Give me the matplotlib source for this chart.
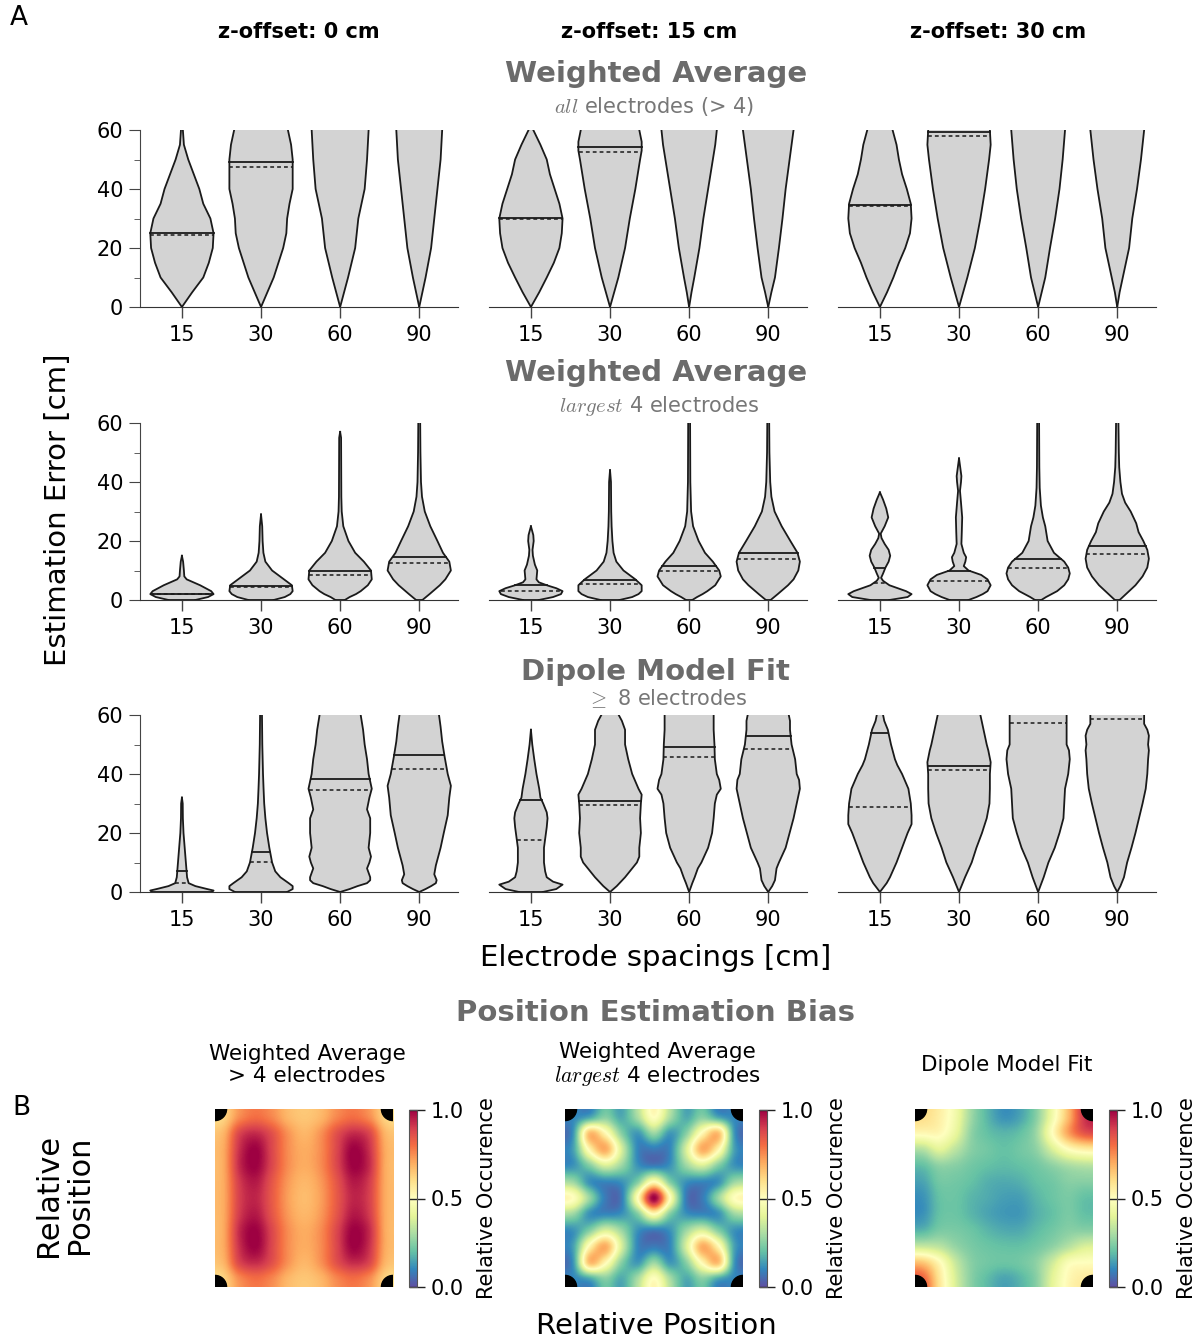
import matplotlib.pyplot as plt
import numpy as np
from matplotlib.patches import Circle

plt.rcParams['font.family'] = 'DejaVu Sans'
plt.rcParams['mathtext.fontset'] = 'cm'

spacings = ['15', '30', '60', '90']
offsets = ['z-offset: 0 cm', 'z-offset: 15 cm', 'z-offset: 30 cm']

# violin outlines as (error [cm], half width) pairs
# weighted average, all electrodes
wa_all_z0 = [
    [(0, 0), (5, .13), (10, .27), (15, .34), (20, .39), (25, .40), (30, .36), (35, .27), (40, .22), (45, .15), (50, .08), (55, .025), (60, .012)],
    [(0, 0), (5, .08), (10, .16), (15, .22), (20, .28), (25, .32), (30, .33), (35, .36), (40, .40), (45, .40), (50, .40), (55, .38), (60, .34)],
    [(0, 0), (10, .10), (20, .19), (30, .23), (40, .31), (50, .34), (60, .36)],
    [(0, 0), (5, .04), (10, .08), (20, .15), (30, .19), (40, .23), (50, .27), (60, .29)],
]
wa_all_z15 = [
    [(0, 0), (5, .105), (10, .20), (15, .29), (20, .36), (25, .39), (30, .40), (35, .36), (40, .30), (45, .24), (50, .20), (55, .12), (60, .03)],
    [(0, 0), (10, .105), (20, .19), (30, .25), (40, .32), (50, .38), (53, .40), (56, .40), (60, .37)],
    [(0, 0), (5, .03), (10, .065), (20, .13), (30, .18), (40, .24), (50, .30), (55, .33), (60, .35)],
    [(0, 0), (5, .04), (10, .085), (20, .135), (30, .18), (40, .22), (50, .27), (60, .32)],
]
wa_all_z30 = [
    [(0, 0), (5, .09), (10, .17), (15, .24), (20, .32), (25, .38), (30, .40), (35, .39), (40, .34), (45, .28), (50, .24), (55, .21), (60, .16)],
    [(0, 0), (10, .105), (20, .20), (30, .27), (40, .33), (50, .38), (55, .40), (60, .39)],
    [(0, 0), (10, .09), (20, .15), (30, .215), (40, .27), (50, .31), (60, .34)],
    [(0, 0), (5, .03), (10, .07), (20, .15), (30, .19), (40, .25), (50, .30), (60, .34)],
]
wa_all_mean = [[25.0, 49.0, None, None], [30.2, 54.2, None, None], [34.6, 59.4, None, None]]
wa_all_median = [[24.5, 47.6, None, None], [29.8, 52.7, None, None], [34.3, 58.1, None, None]]

# weighted average, largest 4 electrodes
wa_top4_z0 = [
    [(0, .17), (1, .33), (2, .40), (3, .37), (5, .23), (7, .06), (8, .03), (10, .025), (13, .015), (15, 0)],
    [(0, .16), (1, .30), (2, .37), (3, .40), (5, .39), (7, .29), (10, .14), (13, .055), (16, .03), (20, .02), (25, .015), (29, 0)],
    [(0, .06), (1, .12), (2, .20), (3, .26), (5, .35), (7, .40), (10, .39), (13, .30), (16, .19), (20, .105), (25, .04), (30, .02), (35, .015), (55, .012), (57, 0)],
    [(0, .04), (2, .13), (5, .26), (7, .33), (10, .40), (13, .38), (16, .30), (20, .23), (25, .14), (30, .07), (35, .035), (40, .022), (50, .015), (60, .012)],
]
wa_top4_z15 = [
    [(0, .10), (1, .28), (2, .38), (3, .40), (4, .32), (5, .20), (6, .10), (7, .07), (10, .08), (12, .05), (15, .025), (17, .02), (20, .035), (22, .03), (25, 0)],
    [(0, .12), (1, .28), (2, .36), (3, .40), (5, .40), (7, .32), (10, .17), (13, .08), (16, .045), (20, .03), (25, .02), (30, .015), (40, .012), (44, 0)],
    [(0, .04), (1, .10), (2, .17), (3, .23), (5, .33), (8, .40), (10, .38), (13, .30), (16, .20), (20, .12), (25, .05), (30, .025), (40, .015), (60, .012)],
    [(0, .03), (2, .12), (5, .25), (7, .32), (10, .38), (13, .40), (16, .37), (20, .28), (25, .17), (30, .08), (35, .04), (40, .025), (50, .015), (60, .012)],
]
wa_top4_z30 = [
    [(0, .12), (1, .35), (2, .40), (3, .33), (5, .12), (6.5, .04), (7.5, .015), (9, .04), (11, .07), (13, .11), (15, .13), (17, .11), (19, .06), (21, .02), (22.5, .01), (25, .06), (28, .105), (31, .08), (34, .04), (36.5, 0)],
    [(0, .12), (1, .22), (2, .30), (3, .36), (5, .40), (7, .36), (8.5, .28), (10, .12), (11.5, .06), (13, .08), (14.5, .09), (16, .06), (19, .03), (23, .035), (28, .04), (33, .025), (37, .012), (40, .025), (42, .03), (45, .015), (48, 0)],
    [(0, .04), (1, .10), (2, .17), (3, .24), (5, .33), (7, .38), (9, .40), (11, .38), (13, .33), (16, .20), (20, .12), (25, .09), (28, .06), (32, .035), (38, .02), (45, .015), (60, .012)],
    [(0, .03), (2, .11), (5, .23), (8, .32), (11, .38), (14, .40), (17, .38), (20, .33), (23, .27), (26, .24), (30, .17), (33, .10), (36, .06), (40, .04), (45, .025), (50, .02), (60, .015)],
]
wa_top4_mean = [[2.2, 4.9, 9.8, 14.7], [5.0, 6.9, 11.4, 16.0], [11.0, 9.8, 13.8, 18.3]]
wa_top4_median = [[2.0, 4.3, 8.5, 12.5], [3.2, 5.3, 9.8, 13.8], [5.8, 6.6, 10.9, 15.6]]

# dipole model fit, >= 8 electrodes
dip_z0 = [
    [(0, .38), (0.5, .40), (1, .32), (2, .17), (3, .085), (5, .065), (10, .05), (15, .035), (20, .02), (25, .012), (30, .01), (32, 0)],
    [(0, .33), (1, .40), (2, .40), (3, .35), (5, .245), (7, .18), (10, .14), (15, .105), (20, .076), (25, .055), (30, .04), (35, .032), (40, .025), (50, .016), (60, .012)],
    [(0, 0), (1, .12), (2, .22), (3, .34), (4, .38), (5, .38), (8, .34), (10, .37), (12, .39), (15, .36), (20, .38), (25, .38), (28, .34), (32, .37), (35, .40), (40, .36), (45, .34), (50, .31), (55, .29), (60, .26)],
    [(0, 0), (1, .08), (2, .15), (3, .21), (4, .22), (6, .19), (9, .21), (12, .24), (15, .27), (20, .31), (26, .36), (32, .38), (36, .40), (40, .36), (46, .32), (51, .29), (56, .27), (60, .25)],
]
dip_z15 = [
    [(0, .15), (1, .32), (2.5, .40), (3.5, .28), (5, .20), (7, .18), (10, .165), (15, .165), (18, .18), (22, .20), (25, .21), (27, .20), (30, .155), (32, .12), (35, .105), (40, .07), (45, .042), (50, .017), (55, 0)],
    [(0, 0), (2, .085), (5, .19), (8, .28), (10, .34), (12, .37), (15, .37), (20, .39), (25, .38), (30, .39), (33, .40), (35, .36), (40, .28), (45, .23), (50, .19), (55, .19), (58, .15), (60, .11)],
    [(0, 0), (3, .04), (5, .07), (8, .11), (10, .155), (15, .24), (20, .29), (25, .31), (30, .325), (33, .35), (35, .40), (38, .38), (40, .35), (45, .325), (50, .32), (55, .31), (60, .31)],
    [(0, 0), (2, .05), (4, .085), (5, .09), (8, .105), (10, .135), (15, .22), (20, .27), (25, .32), (30, .36), (35, .40), (38, .39), (40, .36), (45, .34), (50, .295), (55, .275), (58, .275), (60, .26)],
]
dip_z30 = [
    [(0, 0), (3, .085), (5, .127), (10, .21), (15, .28), (20, .35), (23, .40), (26, .40), (30, .39), (35, .36), (40, .28), (43, .22), (45, .19), (50, .14), (55, .10), (58, .055), (60, .04)],
    [(0, 0), (5, .076), (10, .16), (15, .22), (20, .29), (25, .35), (30, .385), (35, .39), (40, .39), (44, .40), (48, .37), (50, .35), (55, .31), (60, .27)],
    [(0, 0), (5, .07), (10, .13), (15, .21), (20, .27), (25, .32), (30, .33), (35, .34), (40, .38), (45, .40), (48, .39), (50, .36), (55, .36), (60, .36)],
    [(0, 0), (2, .04), (5, .085), (10, .125), (15, .18), (20, .23), (25, .275), (30, .32), (35, .36), (40, .38), (45, .39), (48, .40), (50, .39), (53, .40), (55, .38), (57, .34), (60, .34)],
]
dip_mean = [[7.0, 13.7, 38.3, 46.3], [31.2, 30.9, 49.0, 53.0], [54.0, 42.8, None, None]]
dip_median = [[2.9, 10.2, 34.7, 41.6], [17.6, 29.5, 45.6, 48.6], [28.8, 41.4, 57.3, 58.7]]

# position estimation bias, 11x11 relative occurrence maps (top row first)
bias_wa_all = [
    [.62, .75, .80, .76, .68, .65, .68, .76, .80, .75, .62],
    [.68, .88, .93, .86, .74, .68, .74, .86, .93, .88, .68],
    [.70, .92, 1.0, .88, .75, .70, .75, .88, 1.0, .92, .70],
    [.70, .93, 1.0, .88, .75, .70, .75, .88, 1.0, .93, .70],
    [.70, .90, .96, .85, .73, .68, .73, .85, .96, .90, .70],
    [.70, .89, .94, .84, .72, .67, .72, .84, .94, .89, .70],
    [.70, .90, .96, .85, .73, .68, .73, .85, .96, .90, .70],
    [.70, .93, 1.0, .88, .75, .70, .75, .88, 1.0, .93, .70],
    [.70, .92, 1.0, .88, .75, .70, .75, .88, 1.0, .92, .70],
    [.68, .88, .93, .86, .74, .68, .74, .86, .93, .88, .68],
    [.62, .75, .80, .76, .68, .65, .68, .76, .80, .75, .62],
]
bias_wa_top4 = [
    [.10, .15, .25, .16, .30, .50, .30, .16, .25, .15, .10],
    [.12, .66, .52, .25, .13, .28, .13, .25, .52, .66, .12],
    [.14, .52, .70, .38, .10, .08, .10, .38, .70, .52, .14],
    [.12, .24, .38, .28, .12, .08, .12, .28, .38, .24, .12],
    [.28, .12, .10, .12, .24, .50, .24, .12, .10, .12, .28],
    [.50, .28, .08, .08, .50, 1.0, .50, .08, .08, .28, .50],
    [.28, .12, .10, .12, .24, .50, .24, .12, .10, .12, .28],
    [.12, .24, .38, .28, .12, .08, .12, .28, .38, .24, .12],
    [.14, .52, .70, .38, .10, .08, .10, .38, .70, .52, .14],
    [.12, .66, .52, .25, .13, .28, .13, .25, .52, .66, .12],
    [.10, .15, .25, .16, .30, .50, .30, .16, .25, .15, .10],
]
bias_dipole = [
    [.60, .55, .45, .28, .18, .12, .15, .25, .45, .68, .92],
    [.52, .52, .42, .26, .20, .18, .20, .28, .50, .72, .85],
    [.32, .40, .33, .25, .22, .20, .22, .26, .38, .50, .55],
    [.20, .26, .25, .22, .20, .19, .20, .22, .26, .30, .32],
    [.15, .22, .22, .20, .17, .16, .17, .20, .22, .25, .25],
    [.12, .20, .21, .18, .16, .14, .14, .18, .21, .23, .20],
    [.12, .20, .21, .18, .15, .13, .13, .17, .20, .23, .20],
    [.18, .23, .23, .21, .18, .16, .16, .19, .22, .25, .25],
    [.35, .33, .27, .23, .21, .20, .20, .22, .26, .32, .38],
    [.65, .52, .35, .25, .22, .21, .22, .26, .36, .48, .50],
    [.82, .58, .38, .25, .19, .15, .18, .25, .40, .52, .56],
]

W, H = 1202, 1343
fig = plt.figure(figsize=(W / 100, H / 100), dpi=100)


def px_axes(x0, y0, x1, y1):
    # axes from pixel box (top-left origin)
    return fig.add_axes([x0 / W, 1 - y1 / H, (x1 - x0) / W, (y1 - y0) / H])


def ftext(x, y, s, **kw):
    fig.text(x / W, 1 - y / H, s, **kw)


edge = '#1a1a1a'


def draw_violin(ax, pos, knots, mean, median):
    y = np.array([k[0] for k in knots], dtype=float)
    w = np.array([k[1] for k in knots], dtype=float)
    ax.fill_betweenx(y, pos - w, pos + w, facecolor='#d3d3d3', edgecolor='none', zorder=1)
    ax.plot(pos - w, y, color=edge, lw=1.3, zorder=2)
    ax.plot(pos + w, y, color=edge, lw=1.3, zorder=2)
    if w[0] > 0:
        ax.plot([pos - w[0], pos + w[0]], [y[0], y[0]], color=edge, lw=1.3, zorder=2)
    for val, ls in ((mean, '-'), (median, '--')):
        if val is None or val > 60:
            continue
        hw = np.interp(val, y, w)
        line, = ax.plot([pos - hw, pos + hw], [val, val], color=edge, lw=1.3 if ls == '-' else 1.1, zorder=3)
        if ls == '--':
            line.set_dashes((2.5, 2))


rows = [
    ([wa_all_z0, wa_all_z15, wa_all_z30], wa_all_mean, wa_all_median),
    ([wa_top4_z0, wa_top4_z15, wa_top4_z30], wa_top4_mean, wa_top4_median),
    ([dip_z0, dip_z15, dip_z30], dip_mean, dip_median),
]
col_x0 = [140, 489, 838]
row_top = [130, 423, 715]

for r, (panels, means, medians) in enumerate(rows):
    for c, panel in enumerate(panels):
        ax = px_axes(col_x0[c], row_top[r], col_x0[c] + 318, row_top[r] + 177)
        for i, knots in enumerate(panel):
            draw_violin(ax, i, knots, means[c][i], medians[c][i])
        ax.set_xlim(-0.53, 3.49)
        ax.set_ylim(0, 60)
        ax.set_xticks(range(len(spacings)))
        ax.set_xticklabels(spacings, fontsize=15)
        ax.tick_params(axis='x', length=8, width=1, color='#444444', pad=5)
        for s in ('top', 'right'):
            ax.spines[s].set_visible(False)
        ax.spines['bottom'].set_color('#333333')
        ax.set_facecolor('none')
        if c == 0:
            ax.spines['left'].set_color('#444444')
            ax.set_yticks([0, 20, 40, 60])
            ax.set_yticks([10, 30, 50], minor=True)
            ax.tick_params(axis='y', which='major', length=8, color='#444444', labelsize=15, pad=4)
            ax.tick_params(axis='y', which='minor', length=4, color='#444444')
        else:
            ax.spines['left'].set_visible(False)
            ax.set_yticks([])

# titles for the violin part
ftext(19, 18, 'A', fontsize=19, ha='center', va='center')
for c, name in enumerate(offsets):
    ftext([299, 649, 998][c], 32, name, fontsize=15, fontweight='bold', ha='center', va='center')

title_gray = '#6b6b6b'
sub_gray = '#777777'
ftext(656, 74, 'Weighted Average', fontsize=21, fontweight='bold', color=title_gray, ha='center', va='center')
ftext(654, 107, r'$all$ electrodes (> 4)', fontsize=15, color=sub_gray, ha='center', va='center')
ftext(656, 373, 'Weighted Average', fontsize=21, fontweight='bold', color=title_gray, ha='center', va='center')
ftext(659, 406, r'$largest$ 4 electrodes', fontsize=15, color=sub_gray, ha='center', va='center')
ftext(655, 672, 'Dipole Model Fit', fontsize=21, fontweight='bold', color=title_gray, ha='center', va='center')
ftext(667, 699, r'$\geq$ 8 electrodes', fontsize=15, color=sub_gray, ha='center', va='center')

ftext(58, 510, 'Estimation Error [cm]', fontsize=21, rotation=90, ha='center', va='center')
ftext(656, 958, 'Electrode spacings [cm]', fontsize=21, ha='center', va='center')

# position estimation bias maps
ftext(655, 1013, 'Position Estimation Bias', fontsize=21, fontweight='bold', color=title_gray, ha='center', va='center')
ftext(21, 1108, 'B', fontsize=19, ha='center', va='center')

maps = [bias_wa_all, bias_wa_top4, bias_dipole]
map_titles = ['Weighted Average\n> 4 electrodes', 'Weighted Average\n$largest$ 4 electrodes', 'Dipole Model Fit']
map_x0 = [215, 565, 915]
for k, grid in enumerate(maps):
    x0 = map_x0[k]
    ax = px_axes(x0, 1109, x0 + 178, 1287)
    im = ax.imshow(np.array(grid), cmap='Spectral_r', vmin=0, vmax=1, extent=(0, 1, 0, 1),
                   origin='upper', interpolation='catrom')
    ax.axis('off')
    for cx, cy in [(0, 0), (1, 0), (0, 1), (1, 1)]:
        ax.add_patch(Circle((cx, cy), 0.065, color='black', zorder=3))
    ftext(x0 + 92, 1065, map_titles[k], fontsize=15.5, ha='center', va='center', linespacing=1.15)
    cax = px_axes(x0 + 194, 1110, x0 + 202, 1287)
    cb = fig.colorbar(im, cax=cax, ticks=[0, 0.5, 1])
    cb.ax.set_yticklabels(['0.0', '0.5', '1.0'])
    cb.ax.tick_params(labelsize=15, direction='inout', length=12, width=1, color='#222222', pad=4)
    cb.outline.set_edgecolor('#555555')
    cb.set_label('Relative Occurence', fontsize=15, labelpad=9)

ftext(64, 1195, 'Relative\nPosition', fontsize=22, rotation=90, ha='center', va='center', linespacing=1.05)
ftext(656, 1326, 'Relative Position', fontsize=21, ha='center', va='center')

fig.savefig('out.png', dpi=100)
